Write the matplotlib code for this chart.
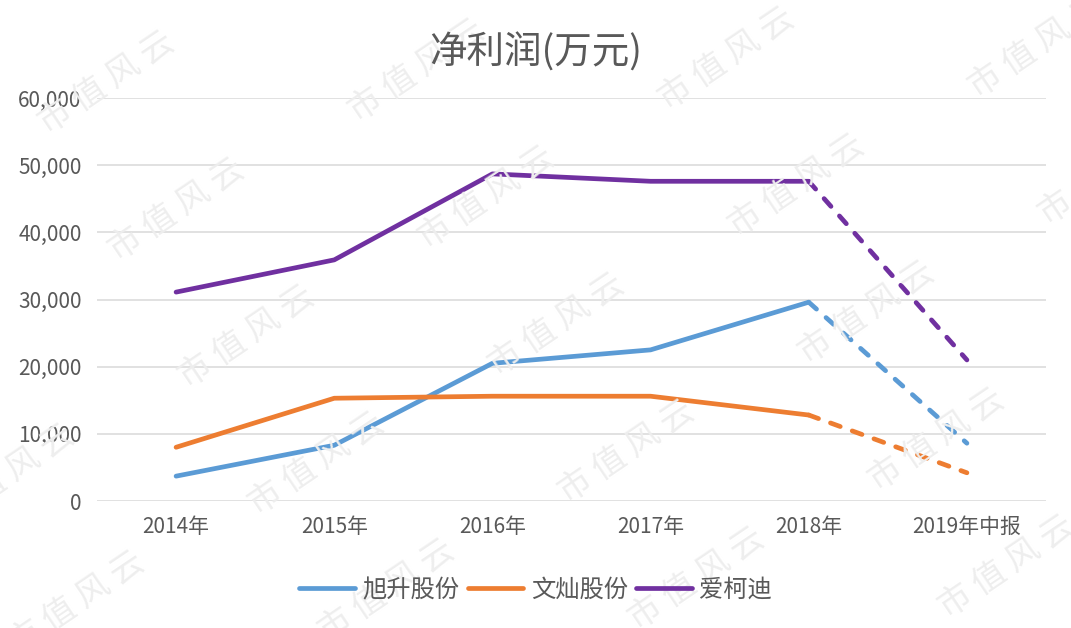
import matplotlib
matplotlib.use("Agg")
import matplotlib.pyplot as plt
from matplotlib.ticker import FuncFormatter

plt.rcParams['font.family'] = ['Noto Sans CJK SC', 'DejaVu Sans']

categories = ["2014年", "2015年", "2016年", "2017年", "2018年", "2019年中报"]
series_names = ["旭升股份", "文灿股份", "爱柯迪"]
xusheng = [3700, 8300, 20500, 22500, 29600, 8600]
wencan = [8000, 15300, 15600, 15600, 12800, 4200]
aikedi = [31100, 35900, 48700, 47600, 47600, 21000]
colors = ["#5B9BD5", "#ED7D31", "#7030A0"]
yticks = [0, 10000, 20000, 30000, 40000, 50000, 60000]

fig = plt.figure(figsize=(10.71, 6.28), dpi=100)

# watermark lattice (drawn first, behind everything)
for col in range(-1, 4):
    for row in range(5):
        px = 107 + 310 * col + 70 * row
        py = 83 - 12 * col + 127 * row
        if -60 < px < 1130 and -40 < py < 670:
            fig.text(px / 1071, 1 - py / 628, "市 值 风 云", rotation=34, ha='center', va='center',
                     fontsize=24, color='#EEEEEE', zorder=0)

ax = fig.add_axes([97/1071, 1-501/628, (1046-97)/1071, (501-98)/628])
ax.patch.set_alpha(0)

x = list(range(len(categories)))
for name, vals, c in zip(series_names, [xusheng, wencan, aikedi], colors):
    ax.plot(x[:5], vals[:5], color=c, lw=3.4, solid_capstyle='round', solid_joinstyle='round',
            label=name, zorder=3)
    ax.plot(x[4:], vals[4:], color=c, lw=3.4, ls=(0, (2.2, 2.7)), dash_capstyle='round', zorder=3)

ax.set_xlim(-0.5, 5.5)
ax.set_ylim(0, 60000)
ax.set_yticks(yticks)
ax.yaxis.set_major_formatter(FuncFormatter(lambda v, p: f"{int(v):,}"))
ax.set_xticks(x)
ax.set_xticklabels(categories)
ax.grid(axis='y', color='#D9D9D9', lw=1.1)
ax.set_axisbelow(True)
for s in ax.spines.values():
    s.set_visible(False)
ax.tick_params(axis='both', length=0, colors='#595959', labelsize=15)
ax.tick_params(axis='y', pad=11)
ax.tick_params(axis='x', pad=11)

fig.text(0.5, 1-53/628, "净利润(万元)", ha='center', va='center', fontsize=27, color='#595959')

leg = fig.legend(loc='center', bbox_to_anchor=(0.5, 1-590/628), ncol=3, frameon=False,
                 fontsize=17.5, handlelength=2.3, columnspacing=0.35, handletextpad=0.3,
                 labelcolor='#595959')

fig.savefig("out.png", dpi=100)
